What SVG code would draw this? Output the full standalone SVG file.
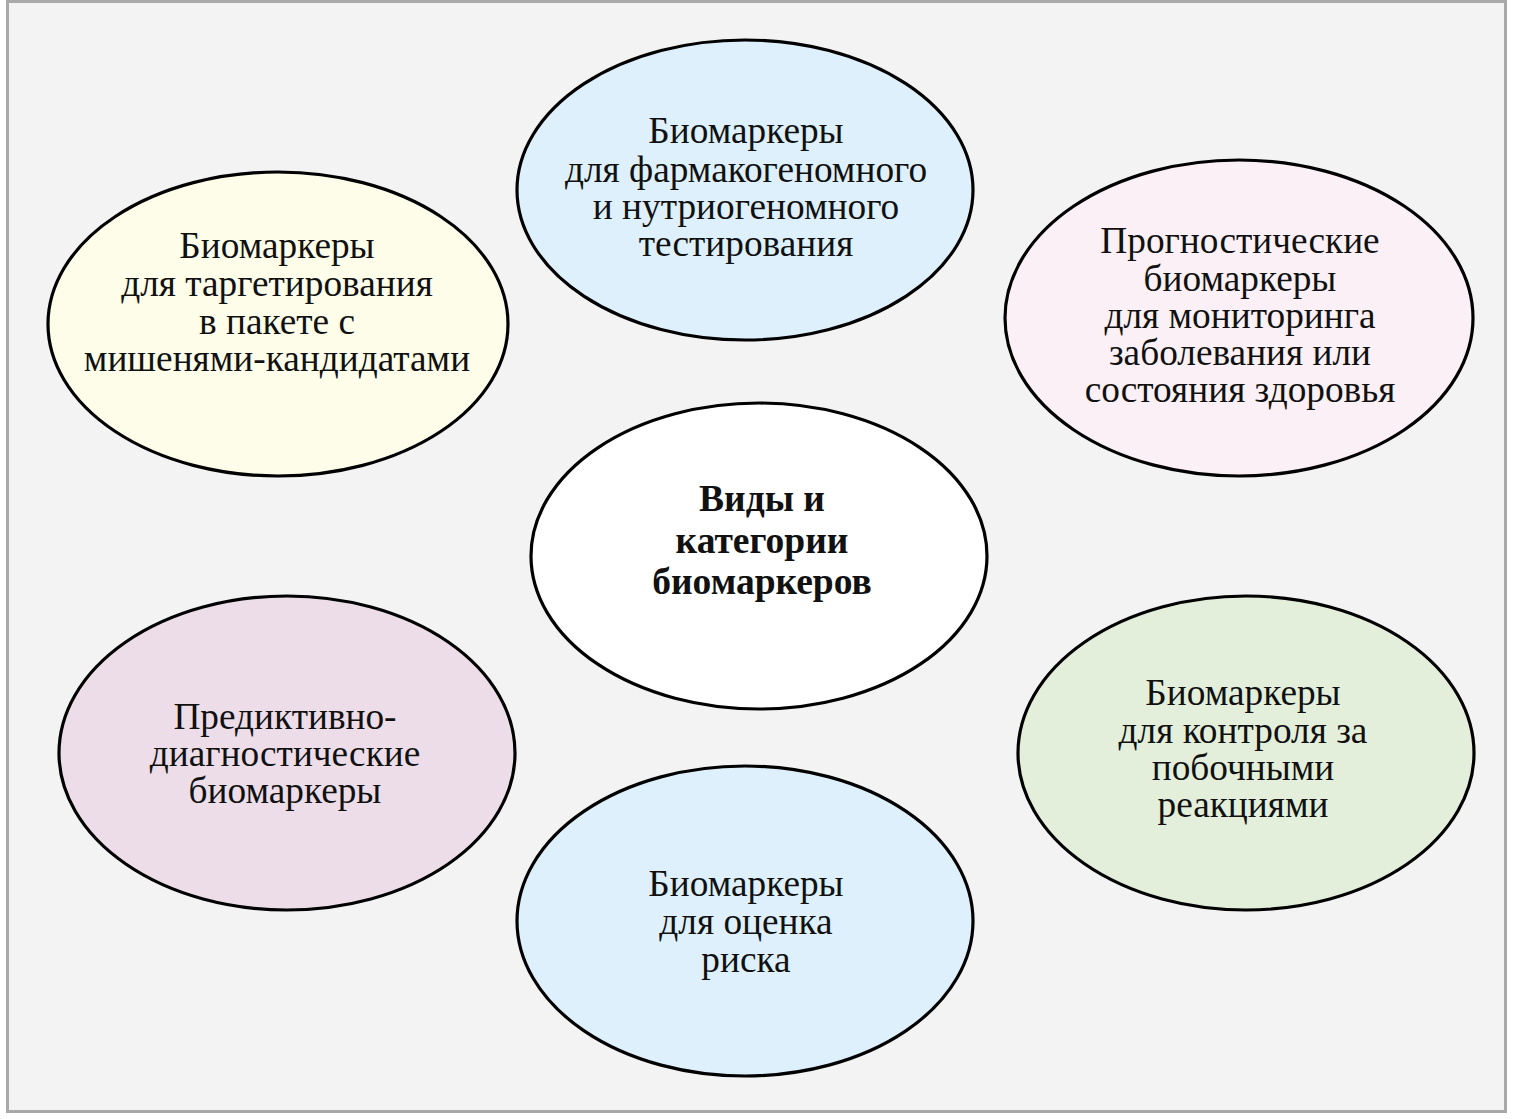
<svg xmlns="http://www.w3.org/2000/svg" width="1513" height="1119" viewBox="0 0 1513 1119">
<style>
.n{stroke:#000;stroke-width:3.2}
.t{font-family:"Liberation Serif","Times New Roman",serif;font-size:37.3px;fill:#111;text-anchor:middle}
.b{font-weight:bold;font-size:37.5px}
</style>
<rect x="0" y="0" width="1513" height="1119" fill="#fff"/>
<rect x="7.5" y="1.5" width="1498" height="1110" fill="#f3f3f3" stroke="#a9a9a9" stroke-width="3"/>
<g id="connectors"></g>
<g id="node-targeting">
<ellipse class="n" cx="278" cy="324" rx="230" ry="152" fill="#fdfdea"/>
<text class="t"><tspan x="277" y="258">Биомаркеры</tspan><tspan x="277" y="296">для таргетирования</tspan><tspan x="277" y="334">в пакете с</tspan><tspan x="277" y="371">мишенями-кандидатами</tspan></text>
</g>
<g id="node-pharmaco">
<ellipse class="n" cx="745" cy="190" rx="228" ry="150" fill="#def0fc"/>
<text class="t"><tspan x="746" y="143">Биомаркеры</tspan><tspan x="746" y="182">для фармакогеномного</tspan><tspan x="746" y="219">и нутриогеномного</tspan><tspan x="746" y="256">тестирования</tspan></text>
</g>
<g id="node-prognostic">
<ellipse class="n" cx="1239" cy="318" rx="234" ry="158" fill="#fbf0f5"/>
<text class="t"><tspan x="1240" y="253">Прогностические</tspan><tspan x="1240" y="291">биомаркеры</tspan><tspan x="1240" y="328">для мониторинга</tspan><tspan x="1240" y="365">заболевания или</tspan><tspan x="1240" y="402">состояния здоровья</tspan></text>
</g>
<g id="node-center">
<ellipse class="n" cx="759" cy="556" rx="228" ry="153" fill="#ffffff"/>
<text class="t b"><tspan x="762" y="511">Виды и</tspan><tspan x="762" y="553">категории</tspan><tspan x="762" y="594">биомаркеров</tspan></text>
</g>
<g id="node-predictive">
<ellipse class="n" cx="287" cy="753" rx="228" ry="157" fill="#ecdde8"/>
<text class="t"><tspan x="285" y="729">Предиктивно-</tspan><tspan x="285" y="766">диагностические</tspan><tspan x="285" y="803">биомаркеры</tspan></text>
</g>
<g id="node-side-effects">
<ellipse class="n" cx="1246" cy="753" rx="228" ry="157" fill="#e3efdb"/>
<text class="t"><tspan x="1243" y="705">Биомаркеры</tspan><tspan x="1243" y="743">для контроля за</tspan><tspan x="1243" y="780">побочными</tspan><tspan x="1243" y="817">реакциями</tspan></text>
</g>
<g id="node-risk">
<ellipse class="n" cx="745" cy="921" rx="228" ry="155" fill="#def0fc"/>
<text class="t"><tspan x="746" y="896">Биомаркеры</tspan><tspan x="746" y="934">для оценка</tspan><tspan x="746" y="972">риска</tspan></text>
</g>
</svg>
